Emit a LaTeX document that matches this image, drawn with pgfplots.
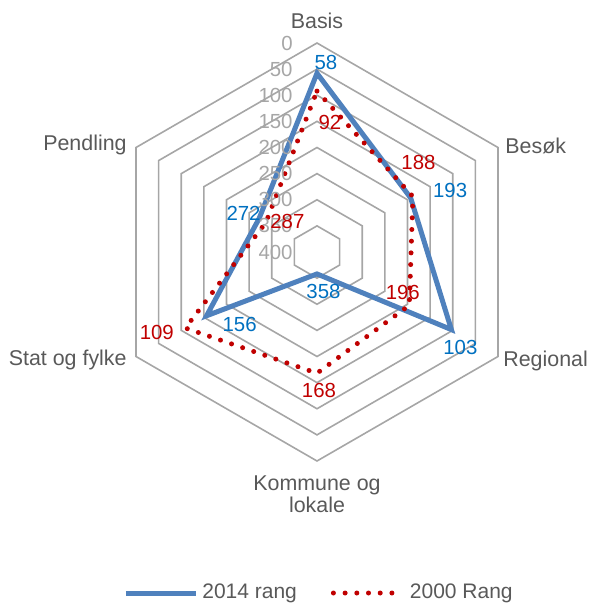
\documentclass[border=0pt]{standalone}
\usepackage{pgfplots}
\pgfplotsset{compat=1.18}
\usepgfplotslibrary{polar}
\usepackage{fontspec}
\setmainfont{Liberation Sans}
\definecolor{lineblue}{HTML}{4F81BD}
\definecolor{lblblue}{HTML}{0070C0}
\definecolor{dred}{HTML}{C00000}
\definecolor{gridgray}{HTML}{A6A6A6}
\definecolor{txtgray}{HTML}{595959}
\tikzset{lbl/.style={inner sep=0pt, anchor=center},
  cat/.style={txtgray, inner sep=0pt, font=\fontsize{10.7}{11}\selectfont}}
\begin{document}
\begin{tikzpicture}[font=\fontsize{10.2}{12}\selectfont]
\begin{polaraxis}[
  name=ax, hide axis, scale only axis, width=209pt, height=209pt,
  enlargelimits=false, clip=false,
  y coord trafo/.code={\pgfmathparse{400-#1}},
  y coord inv trafo/.code={\pgfmathparse{400-#1}},
  legend columns=2,
  legend cell align=left,
  legend style={draw=none, fill=none, at={(0.5,0)}, anchor=center,
    xshift=1.5pt, yshift=-66pt, text=txtgray,
    font=\fontsize{10.5}{12}\selectfont,
    /tikz/every even column/.append style={column sep=15pt}},
  legend image code/.code={\draw[#1] (0pt,0pt) -- (35pt,0pt);},
]
\pgfplotsinvokeforeach{0,50,...,350}{
  \addplot[gridgray, line width=0.8pt, forget plot, no markers]
    coordinates {(90,#1) (30,#1) (-30,#1) (-90,#1) (-150,#1) (150,#1)} -- cycle;
}
\addplot[draw=none, forget plot, no markers] coordinates {(90,400)};

% 2014 rang
\addplot[lineblue, line width=2.5pt, no markers, line join=miter]
  coordinates {(90,58) (30,193) (-30,103) (-90,358) (-150,156) (150,272)} -- cycle;
\addlegendentry{2014 rang}
% 2000 Rang
\addplot[dred, line width=2.5pt, no markers, line cap=round, dash pattern=on 0pt off 5.85pt]
  coordinates {(90,92) (30,188) (-30,196) (-90,168) (-150,109) (150,287)} -- cycle;
\addlegendentry{2000 Rang}

% radial tick labels
\pgfplotsinvokeforeach{0,50,...,400}{
  \node[gridgray, inner sep=0pt, anchor=east, xshift=-12pt] at (axis cs:90,#1) {#1};
}

% category labels
\node[cat, anchor=base, yshift=7.5pt] at (axis cs:90,0) {Basis};
\node[cat, anchor=west, xshift=3.5pt, yshift=1pt] at (axis cs:30,0) {Besøk};
\node[cat, anchor=west, xshift=2.5pt, yshift=-2pt] at (axis cs:-30,0) {Regional};
\node[cat, anchor=north, yshift=-7pt, align=center] at (axis cs:-90,0) {Kommune og\\lokale};
\node[cat, anchor=east, xshift=-4.5pt, yshift=-1.5pt] at (axis cs:-150,0) {Stat og fylke};
\node[cat, anchor=east, xshift=-4.5pt, yshift=1.5pt] at (axis cs:150,0) {Pendling};

% data labels 2014
\node[lbl, lblblue, xshift=4.5pt, yshift=5.25pt] at (axis cs:90,58) {58};
\node[lbl, lblblue, xshift=19.75pt, yshift=3.75pt] at (axis cs:30,193) {193};
\node[lbl, lblblue, xshift=4.5pt, yshift=-8.75pt] at (axis cs:-30,103) {103};
\node[lbl, lblblue, xshift=3.25pt, yshift=-8.75pt] at (axis cs:-90,358) {358};
\node[lbl, lblblue, xshift=16.5pt, yshift=-4.5pt] at (axis cs:-150,156) {156};
\node[lbl, lblblue, xshift=-7.75pt, yshift=2.5pt] at (axis cs:150,272) {272};
% data labels 2000
\node[lbl, dred, xshift=6.5pt, yshift=-15.75pt] at (axis cs:90,92) {92};
\node[lbl, dred, xshift=2.75pt, yshift=17.25pt] at (axis cs:30,188) {188};
\node[lbl, dred, xshift=-3.25pt, yshift=6.25pt] at (axis cs:-30,196) {196};
\node[lbl, dred, xshift=1pt, yshift=-8.5pt] at (axis cs:-90,168) {168};
\node[lbl, dred, xshift=-14.25pt, yshift=-2.25pt] at (axis cs:-150,109) {109};
\node[lbl, dred, xshift=10.75pt, yshift=0.5pt] at (axis cs:150,287) {287};

\coordinate (c) at (axis cs:0,400);
\end{polaraxis}
\pgfresetboundingbox
\path[use as bounding box] ([shift={(-158.5pt,126pt)}]c) rectangle ([shift={(137.5pt,-176.5pt)}]c);
\end{tikzpicture}
\end{document}
